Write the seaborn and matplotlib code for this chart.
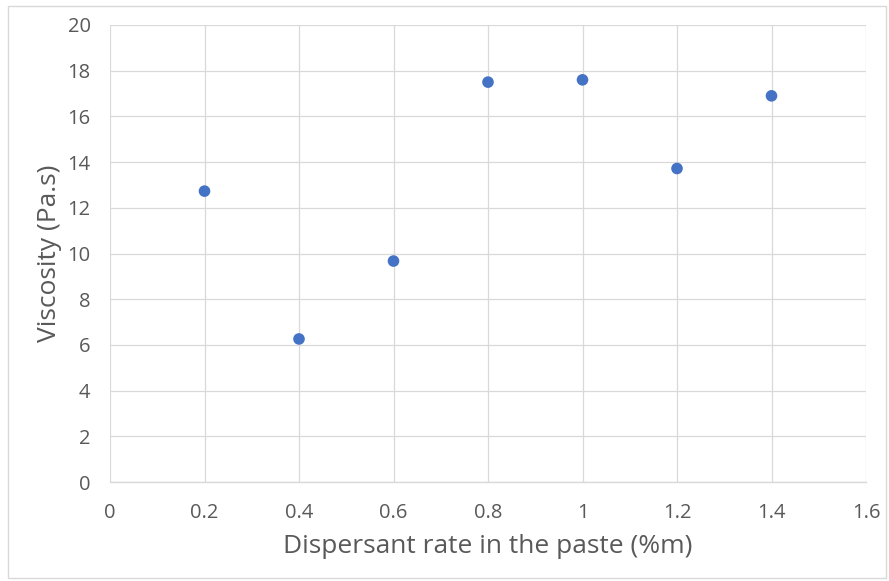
import matplotlib
matplotlib.use('Agg')
import matplotlib.pyplot as plt
import pandas as pd
import seaborn as sns

# Data
dispersant_rate = [0.2, 0.4, 0.6, 0.8, 1.0, 1.2, 1.4]
viscosity = [12.73, 6.26, 9.67, 17.5, 17.6, 13.72, 16.9]
x_ticks = [0, 0.2, 0.4, 0.6, 0.8, 1.0, 1.2, 1.4, 1.6]
x_tick_labels = ['0', '0.2', '0.4', '0.6', '0.8', '1', '1.2', '1.4', '1.6']
y_ticks = [0, 2, 4, 6, 8, 10, 12, 14, 16, 18, 20]

df = pd.DataFrame({'rate': dispersant_rate, 'viscosity': viscosity})

sns.set_theme(style='white')
plt.rcParams['font.family'] = ['Open Sans', 'DejaVu Sans']

fig = plt.figure(figsize=(8.89, 5.81), dpi=100)
ax = fig.add_axes([110 / 889, 1 - 482 / 581, (866 - 110) / 889, (482 - 25) / 581])

sns.scatterplot(data=df, x='rate', y='viscosity', ax=ax, color='#4472C4',
                s=70, edgecolor='none', zorder=3)

ax.set_xlim(0, 1.6)
ax.set_ylim(0, 20)
ax.set_xticks(x_ticks)
ax.set_xticklabels(x_tick_labels)
ax.set_yticks(y_ticks)

grid_col = '#d9d9d9'
ax.grid(True, color=grid_col, lw=0.9)
ax.set_axisbelow(True)
for side in ['top', 'right', 'left']:
    ax.spines[side].set_visible(False)
ax.spines['bottom'].set_color(grid_col)
ax.spines['bottom'].set_linewidth(1.0)

ax.tick_params(axis='both', length=0, labelsize=14.5, labelcolor='#595959')
ax.tick_params(axis='x', pad=15)
ax.tick_params(axis='y', pad=14)

ax.set_xlabel('Dispersant rate in the paste (%m)', fontsize=19, color='#595959', labelpad=8)
ax.set_ylabel('Viscosity (Pa.s)', fontsize=19, color='#595959', labelpad=4)

# light border around the whole chart area
fig.patches.append(plt.Rectangle((8 / 889, 1 - 578 / 581), 878 / 889, 572 / 581,
                                 transform=fig.transFigure, fill=False,
                                 edgecolor='#d9d9d9', lw=1))

fig.savefig('out.png', dpi=100)
